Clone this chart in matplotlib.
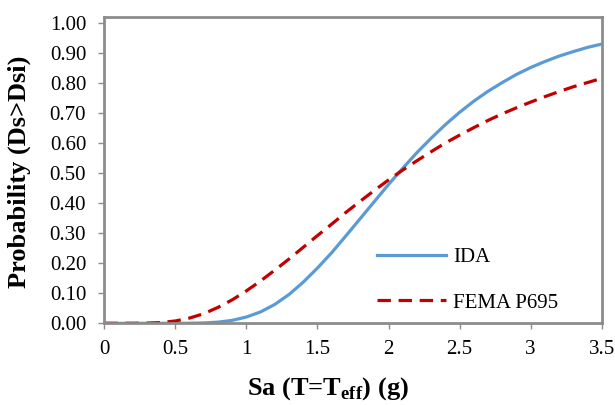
import matplotlib
matplotlib.use("Agg")
import matplotlib.pyplot as plt

plt.rcParams['font.family'] = ['Liberation Serif', 'DejaVu Serif']
plt.rcParams['mathtext.fontset'] = 'custom'
plt.rcParams['mathtext.rm'] = 'Liberation Serif'
plt.rcParams['mathtext.bf'] = 'Liberation Serif:bold'

# spectral acceleration (g)
sa = [0.0, 0.1, 0.2, 0.3, 0.4, 0.5, 0.6, 0.7, 0.8, 0.9,
      1.0, 1.1, 1.2, 1.3, 1.4, 1.5, 1.6, 1.7, 1.8, 1.9,
      2.0, 2.1, 2.2, 2.3, 2.4, 2.5, 2.6, 2.7, 2.8, 2.9,
      3.0, 3.1, 3.2, 3.3, 3.4, 3.5]

# exceedance probability
p_ida = [0.0, 0.0, 0.0, 0.0, 0.0, 0.0, 0.0003, 0.0012, 0.0039, 0.0098,
         0.021, 0.038, 0.063, 0.096, 0.137, 0.184, 0.235, 0.291, 0.348, 0.405,
         0.462, 0.516, 0.568, 0.616, 0.661, 0.702, 0.739, 0.772, 0.801, 0.828,
         0.851, 0.871, 0.889, 0.904, 0.918, 0.929]
p_fema = [0.0, 0.0, 0.0, 0.0005, 0.0026, 0.0078, 0.0175, 0.032, 0.053, 0.078,
          0.108, 0.141, 0.177, 0.214, 0.253, 0.292, 0.330, 0.369, 0.406, 0.442,
          0.477, 0.510, 0.541, 0.571, 0.600, 0.626, 0.651, 0.675, 0.697, 0.717,
          0.736, 0.754, 0.771, 0.787, 0.801, 0.815]

x_ticks = [0, 0.5, 1, 1.5, 2, 2.5, 3, 3.5]
x_tick_labels = ['0', '0.5', '1', '1.5', '2', '2.5', '3', '3.5']
y_ticks = [0.0, 0.1, 0.2, 0.3, 0.4, 0.5, 0.6, 0.7, 0.8, 0.9, 1.0]

fig = plt.figure(figsize=(6.15, 4.05), dpi=100)
ax = fig.add_axes([0.1696, 0.2017, 0.8088, 0.757])

ax.plot(sa, p_ida, color='#5B9BD5', linewidth=2.3, label='IDA')
ax.plot(sa, p_fema, color='#C00000', linewidth=2.3, linestyle=(0, (4.2, 2.4)),
        label='FEMA P695')

ax.set_xlim(0, 3.5)
ax.set_ylim(0, 1.02)
ax.set_xticks(x_ticks)
ax.set_xticklabels(x_tick_labels)
ax.set_yticks(y_ticks)
ax.set_yticklabels(['%.2f' % v for v in y_ticks])

for s in ax.spines.values():
    s.set_color('#8C8C8C')
    s.set_linewidth(2)
ax.tick_params(axis='both', colors='#8C8C8C', labelcolor='black', length=4,
               width=1, direction='out', labelsize=15)
ax.tick_params(axis='y', pad=9)
ax.tick_params(axis='x', pad=8)

fig.text(328 / 615, 1 - 389 / 405, 'Sa (T=T$_{\\mathbf{eff}}$) (g)', fontsize=19,
         fontweight='bold', ha='center', va='center')
fig.text(19 / 615, 1 - 172 / 405, 'Probability (Ds>Dsi)', fontsize=19,
         fontweight='bold', ha='center', va='center', rotation=90)

ax.legend(loc='center left', bbox_to_anchor=(0.548, 0.141), frameon=False,
          fontsize=15, handlelength=3.3, handletextpad=0.35, labelspacing=1.24,
          borderpad=0, borderaxespad=0)

fig.savefig('out.png', dpi=100)
